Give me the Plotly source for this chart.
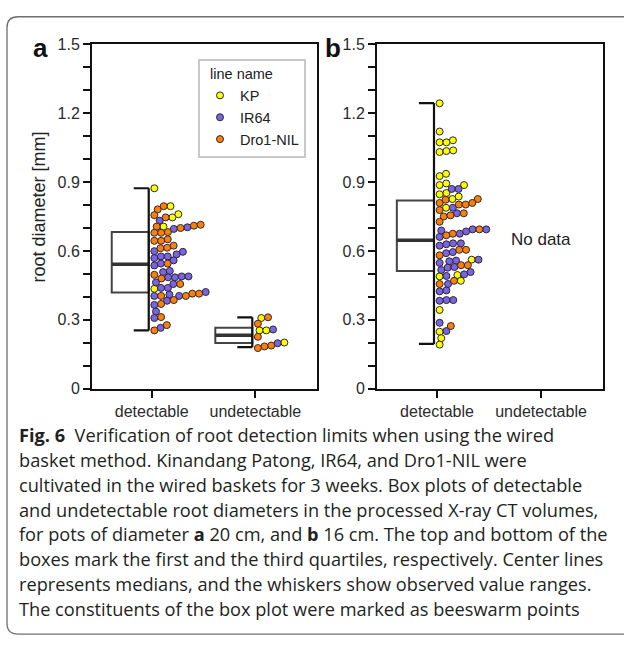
import math
import plotly.graph_objects as go

# ---------------- data ----------------
categories = ["detectable", "undetectable"]
line_names = ["KP", "IR64", "Dro1-NIL"]
line_codes = ["K", "I", "D"]
line_colors = ["#FFFF00", "#7B62E6", "#FF7F0A"]

# panel a (pot diameter 20 cm), detectable roots
a_det_vals = [0.873,
              0.781, 0.795, 0.795,
              0.746, 0.756, 0.732, 0.746, 0.760,
              0.706, 0.706, 0.696, 0.700, 0.703, 0.710, 0.714,
              0.679, 0.679, 0.682,
              0.651, 0.644, 0.644,
              0.612, 0.614, 0.623,
              0.596, 0.599, 0.576, 0.576, 0.585,
              0.559, 0.569, 0.537, 0.545, 0.545,
              0.513,
              0.480, 0.489, 0.485, 0.485, 0.489, 0.496, 0.508,
              0.456, 0.456, 0.463, 0.439, 0.439, 0.435,
              0.421, 0.414, 0.414, 0.410, 0.404, 0.404, 0.404, 0.404,
              0.386, 0.383, 0.369, 0.365,
              0.336, 0.312, 0.308,
              0.277, 0.265, 0.254]
a_det_line = ['K',
              'D', 'D', 'K',
              'D', 'D', 'I', 'K', 'K',
              'D', 'K', 'I', 'D', 'I', 'D', 'D',
              'D', 'D', 'D',
              'D', 'D', 'D',
              'D', 'D', 'D',
              'I', 'I', 'I', 'I', 'I',
              'I', 'I', 'I', 'I', 'D',
              'I',
              'D', 'I', 'I', 'I', 'I', 'D', 'I',
              'I', 'D', 'I', 'I', 'I', 'K',
              'I', 'D', 'D', 'I', 'I', 'D', 'I', 'D',
              'D', 'I', 'D', 'I',
              'I', 'D', 'I',
              'D', 'I', 'D']

# panel a, undetectable roots
a_und_vals = [0.308, 0.311, 0.283, 0.254, 0.254, 0.258, 0.226,
              0.198, 0.201, 0.188, 0.184, 0.177]
a_und_line = ['K', 'D', 'D', 'K', 'K', 'I', 'D', 'I', 'K', 'D', 'D', 'D']

# panel b (pot diameter 16 cm), detectable roots
b_det_vals = [1.243,
              1.120,
              1.073, 1.073, 1.082,
              1.031, 1.035, 1.038,
              0.926, 0.936,
              0.887, 0.870, 0.887, 0.894, 0.870,
              0.852, 0.823, 0.826, 0.847, 0.826, 0.837,
              0.802, 0.809, 0.788, 0.802, 0.809, 0.788,
              0.764, 0.750, 0.755, 0.764, 0.778,
              0.727,
              0.694, 0.694, 0.661, 0.668, 0.675, 0.675, 0.685, 0.689, 0.694,
              0.623, 0.629, 0.633, 0.633, 0.605, 0.605,
              0.581, 0.590, 0.595, 0.555, 0.562, 0.562, 0.558, 0.548, 0.527, 0.538, 0.538, 0.530,
              0.517, 0.495, 0.508, 0.498, 0.491, 0.489, 0.470, 0.470, 0.456, 0.456,
              0.428, 0.424,
              0.386, 0.386, 0.383,
              0.343,
              0.287, 0.273,
              0.251, 0.248,
              0.220,
              0.192]
b_det_line = ['K',
              'K',
              'K', 'K', 'K',
              'K', 'K', 'K',
              'K', 'K',
              'K', 'I', 'K', 'K', 'I',
              'K', 'D', 'K', 'K', 'D', 'K',
              'D', 'D', 'K', 'D', 'D', 'I',
              'I', 'D', 'D', 'D', 'D',
              'D',
              'I', 'D', 'I', 'D', 'D', 'I', 'I', 'I', 'I',
              'I', 'I', 'I', 'I', 'D', 'D',
              'D', 'I', 'I', 'I', 'K', 'I', 'I', 'I', 'I', 'D', 'D', 'I',
              'I', 'K', 'I', 'I', 'I', 'K', 'D', 'K', 'D', 'I',
              'I', 'I',
              'I', 'I', 'I',
              'K',
              'I', 'D',
              'I', 'K',
              'K',
              'K']

# box statistics: [min, Q1, median, Q3, max]
box_a_det = [0.254, 0.419, 0.542, 0.682, 0.873]
box_a_und = [0.181, 0.199, 0.233, 0.266, 0.311]
box_b_det = [0.195, 0.513, 0.647, 0.820, 1.244]

y_ticks_major = [0, 0.3, 0.6, 0.9, 1.2, 1.5]

caption_lines = [
    "<b>Fig. 6</b>  Verification of root detection limits when using the wired",
    "basket method. Kinandang Patong, IR64, and Dro1-NIL were",
    "cultivated in the wired baskets for 3 weeks. Box plots of detectable",
    "and undetectable root diameters in the processed X-ray CT volumes,",
    "for pots of diameter <b>a</b> 20 cm, and <b>b</b> 16 cm. The top and bottom of the",
    "boxes mark the first and the third quartiles, respectively. Center lines",
    "represents medians, and the whiskers show observed value ranges.",
    "The constituents of the box plot were marked as beeswarm points",
]

# ---------------- geometry ----------------
W, H = 624, 645
PX_L_A, PX_R_A = 92, 317
PX_L_B, PX_R_B = 377, 603
PX_TOP, PX_BOT = 37.3, 391
X_RANGE = [-0.577, 1.596]
Y_RANGE = [0, 1.5]
ppu_x = (PX_R_A - PX_L_A) / (X_RANGE[1] - X_RANGE[0])
ppu_y = (PX_BOT - PX_TOP) / (Y_RANGE[1] - Y_RANGE[0])
MARK = 7.0
DIAM = 6.8
CHART_FONT = "Liberation Sans, Arial, sans-serif"

def px_x(p):
    return p / W

def px_y(p):
    return 1 - p / H


def swarm(vals):
    ys = [v * ppu_y for v in vals]
    order = sorted(range(len(vals)), key=lambda i: ys[i])
    xs = [0.0] * len(vals)
    placed = []
    for i in order:
        y = ys[i]
        near = [(xj, yj) for (xj, yj) in placed if abs(yj - y) < DIAM]
        cands = [0.0]
        for xj, yj in near:
            dx = math.sqrt(DIAM * DIAM - (yj - y) ** 2)
            cands += [xj + dx, xj - dx]
        cands = sorted(c for c in cands if c >= -1e-9)
        for c in cands:
            if all((c - xj) ** 2 + (yj - y) ** 2 >= DIAM * DIAM - 1e-6 for xj, yj in near):
                xs[i] = c
                break
        placed.append((xs[i], y))
    return xs


fig = go.Figure()
shown = set()

def add_swarm(vals, lines, cat, xa, ya):
    offs = swarm(vals)
    base = cat + 2.6 / ppu_x
    for code, name, col in zip(line_codes, line_names, line_colors):
        xs = [base + o / ppu_x for o, l in zip(offs, lines) if l == code]
        ys = [v for v, l in zip(vals, lines) if l == code]
        if not xs:
            continue
        fig.add_trace(go.Scatter(
            x=xs, y=ys, mode="markers", name=name,
            xaxis=xa, yaxis=ya,
            showlegend=name not in shown,
            marker=dict(size=MARK, color=col, line=dict(color="#2a2a2a", width=1)),
            hoverinfo="skip"))
        shown.add(name)


shapes = []

def add_box(stats, cat, xr, yr):
    lo, q1, med, q3, hi = stats
    xw = cat - 3.0 / ppu_x
    xl = cat - 40.0 / ppu_x
    xc = cat - 18.0 / ppu_x
    shapes.append(dict(type="rect", xref=xr, yref=yr, x0=xl, x1=xw, y0=q1, y1=q3,
                       line=dict(color="#444444", width=2), fillcolor="white", layer="below"))
    shapes.append(dict(type="line", xref=xr, yref=yr, x0=xl, x1=xw, y0=med, y1=med,
                       line=dict(color="#333333", width=3.5)))
    shapes.append(dict(type="line", xref=xr, yref=yr, x0=xw, x1=xw, y0=lo, y1=hi,
                       line=dict(color="#111111", width=2.2)))
    for v in (lo, hi):
        shapes.append(dict(type="line", xref=xr, yref=yr, x0=xc, x1=xw, y0=v, y1=v,
                           line=dict(color="#111111", width=2.2)))


add_box(box_a_det, 0, "x", "y")
add_box(box_a_und, 1, "x", "y")
add_box(box_b_det, 0, "x2", "y2")
add_swarm(a_det_vals, a_det_line, 0, "x", "y")
add_swarm(a_und_vals, a_und_line, 1, "x", "y")
add_swarm(b_det_vals, b_det_line, 0, "x2", "y2")

# card border
L, T, R, B, r = 7, 9, 636, 643, 11
path = (f"M {px_x(L)},{px_y(B - r)} L {px_x(L)},{px_y(T + r)} "
        f"Q {px_x(L)},{px_y(T)} {px_x(L + r)},{px_y(T)} "
        f"L {px_x(R - r)},{px_y(T)} Q {px_x(R)},{px_y(T)} {px_x(R)},{px_y(T + r)} "
        f"L {px_x(R)},{px_y(B - r)} Q {px_x(R)},{px_y(B)} {px_x(R - r)},{px_y(B)} "
        f"L {px_x(L + r)},{px_y(B)} Q {px_x(L)},{px_y(B)} {px_x(L)},{px_y(B - r)} Z")
shapes.append(dict(type="path", xref="paper", yref="paper", path=path,
                   line=dict(color="#6e6e6e", width=1.3)))

AX_FONT = dict(family=CHART_FONT, size=16, color="#2b2b2b")

def xaxis_cfg(l, r, anchor):
    return dict(domain=[px_x(l), px_x(r)], range=X_RANGE, tickmode="array",
                tickvals=[0, 1], ticktext=categories, ticks="outside", ticklen=7,
                tickwidth=2, tickcolor="#111", showline=True, linecolor="#111",
                linewidth=2, mirror=True, showgrid=False, zeroline=False,
                tickfont=AX_FONT, fixedrange=True, anchor=anchor)

def yaxis_cfg(anchor):
    return dict(domain=[px_y(PX_BOT), px_y(PX_TOP)], range=Y_RANGE, tickmode="array",
                tickvals=y_ticks_major, ticktext=[("%g" % v) for v in y_ticks_major],
                ticks="outside", ticklen=7, tickwidth=2, tickcolor="#111",
                minor=dict(tickmode="linear", tick0=0, dtick=0.1, ticks="outside",
                           ticklen=7, tickwidth=2, tickcolor="#111"),
                showline=True, linecolor="#111", linewidth=2, mirror=True,
                showgrid=False, zeroline=False, tickfont=AX_FONT, anchor=anchor,
                fixedrange=True)

annotations = [
    dict(text="root diameter [mm]", textangle=-90, xref="paper", yref="paper",
         x=px_x(39), y=px_y(205), xanchor="center", yanchor="middle", showarrow=False,
         font=dict(family=CHART_FONT, size=18, color="#222")),
    dict(text="<b>a</b>", xref="paper", yref="paper", x=px_x(40), y=px_y(41),
         xanchor="center", yanchor="middle",
         showarrow=False, font=dict(family=CHART_FONT, size=26, color="#111")),
    dict(text="<b>b</b>", xref="paper", yref="paper", x=px_x(333), y=px_y(41),
         xanchor="center", yanchor="middle",
         showarrow=False, font=dict(family=CHART_FONT, size=26, color="#111")),
    dict(text="No data", xref="x2", yref="y2", x=1, y=0.65, showarrow=False,
         xanchor="center", yanchor="middle",
         font=dict(family=CHART_FONT, size=17, color="#222")),
]
CAP_TOP, CAP_STEP = 439, 25.4
for i, line in enumerate(caption_lines):
    annotations.append(dict(text=line, xref="paper", yref="paper", x=px_x(17),
                            y=px_y(CAP_TOP + i * CAP_STEP), xanchor="left",
                            yanchor="middle", align="left", showarrow=False,
                            font=dict(family="Open Sans, sans-serif", size=18.2, color="#231f20")))

fig.update_layout(
    width=W, height=H, margin=dict(l=0, r=0, t=0, b=0),
    paper_bgcolor="white", plot_bgcolor="white",
    xaxis=xaxis_cfg(PX_L_A, PX_R_A, "y"), yaxis=yaxis_cfg("x"),
    xaxis2=xaxis_cfg(PX_L_B, PX_R_B, "y2"), yaxis2=yaxis_cfg("x2"),
    shapes=shapes, annotations=annotations,
    legend=dict(x=px_x(198), y=px_y(52), xanchor="left", yanchor="top",
                bordercolor="#c8c8c8", borderwidth=2, bgcolor="white",
                title=dict(text="  line name", font=dict(family=CHART_FONT, size=14.5, color="#222")),
                font=dict(family=CHART_FONT, size=14.5, color="#222"),
                tracegroupgap=0),
    showlegend=True,
)

fig.write_html("out.html", config={"displayModeBar": False},
               post_script="document.body.style.margin='0';")
